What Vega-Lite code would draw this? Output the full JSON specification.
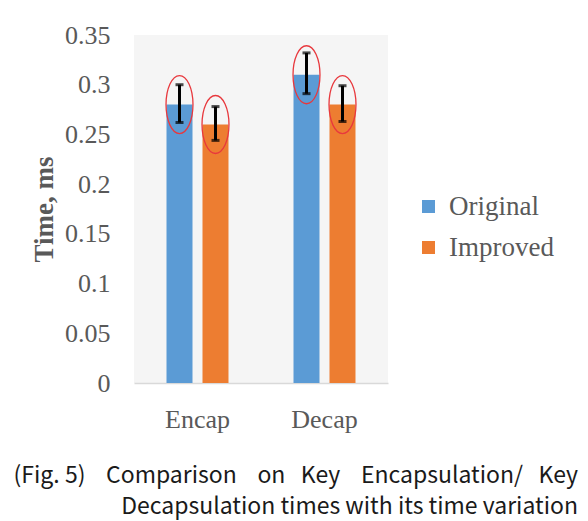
{
  "$schema": "https://vega.github.io/schema/vega-lite/v6.json",
  "width": 254,
  "height": 348,
  "autosize": {"type": "none"},
  "padding": {"left": 134, "top": 35, "right": 200, "bottom": 138},
  "background": "white",
  "config": {
    "view": {"fill": "#f5f5f5", "stroke": null},
    "font": "Liberation Serif",
    "legend": {"labelFont": "Liberation Serif", "labelFontSize": 27, "labelColor": "#595959"}
  },
  "title": {
    "text": ["(Fig. 5)\u00a0\u00a0\u00a0\u00a0Comparison\u00a0\u00a0\u00a0\u00a0on\u00a0\u00a0\u00a0Key\u00a0\u00a0\u00a0\u00a0Encapsulation/\u00a0\u00a0\u00a0Key", "Decapsulation times with its time variation"],
    "orient": "bottom",
    "anchor": "end",
    "frame": "group",
    "dx": 190,
    "offset": 33,
    "font": "Noto Sans CJK KR",
    "fontSize": 23,
    "fontWeight": "normal",
    "color": "#1a1a1a",
    "lineHeight": 31
  },
  "data": {
    "values": [
      {"group": "Encap", "series": "Original", "value": 0.28, "lo": 0.262, "hi": 0.3},
      {"group": "Encap", "series": "Improved", "value": 0.26, "lo": 0.244, "hi": 0.278},
      {"group": "Decap", "series": "Original", "value": 0.31, "lo": 0.291, "hi": 0.332},
      {"group": "Decap", "series": "Improved", "value": 0.28, "lo": 0.263, "hi": 0.299}
    ]
  },
  "encoding": {
    "x": {
      "field": "group",
      "type": "nominal",
      "sort": ["Encap", "Decap"],
      "scale": {"paddingInner": 0, "paddingOuter": 0},
      "axis": {
        "title": null,
        "labelAngle": 0,
        "labelFont": "Liberation Serif",
        "labelFontSize": 26,
        "labelColor": "#595959",
        "labelPadding": 23,
        "ticks": false,
        "domainColor": "#d9d9d9",
        "domainWidth": 1.5
      }
    },
    "xOffset": {
      "field": "series",
      "type": "nominal",
      "sort": ["Original", "Improved"],
      "scale": {"paddingInner": 0.278, "paddingOuter": 0.903}
    }
  },
  "layer": [
    {
      "mark": {"type": "bar"},
      "encoding": {
        "y": {
          "field": "value",
          "type": "quantitative",
          "scale": {"domain": [0, 0.35], "nice": false},
          "axis": {
            "values": [0, 0.05, 0.1, 0.15, 0.2, 0.25, 0.3, 0.35],
            "format": ".2~f",
            "title": "Time, ms",
            "titleFont": "Liberation Serif",
            "titleFontSize": 27,
            "titleFontWeight": "bold",
            "titleColor": "#595959",
            "titlePadding": 6,
            "labelFont": "Liberation Serif",
            "labelFontSize": 26,
            "labelColor": "#595959",
            "labelPadding": 24,
            "ticks": false,
            "domain": false,
            "grid": false
          }
        },
        "color": {
          "field": "series",
          "type": "nominal",
          "sort": ["Original", "Improved"],
          "scale": {"domain": ["Original", "Improved"], "range": ["#5b9bd5", "#ed7d31"]},
          "legend": {
            "title": null,
            "orient": "none",
            "legendX": 281,
            "legendY": 158,
            "symbolType": "square",
            "symbolSize": 169,
            "symbolStrokeWidth": 0,
            "labelFont": "Liberation Serif",
            "labelFontSize": 27,
            "labelColor": "#595959",
            "labelOffset": 7,
            "rowPadding": 13
          }
        }
      }
    },
    {
      "mark": {"type": "rule", "color": "black", "strokeWidth": 3},
      "encoding": {
        "y": {"field": "lo", "type": "quantitative"},
        "y2": {"field": "hi"}
      }
    },
    {
      "mark": {"type": "tick", "color": "black", "thickness": 3, "size": 8},
      "encoding": {"y": {"field": "lo", "type": "quantitative"}}
    },
    {
      "mark": {"type": "tick", "color": "black", "thickness": 3, "size": 8},
      "encoding": {"y": {"field": "hi", "type": "quantitative"}}
    },
    {
      "mark": {
        "type": "point",
        "shape": "M -0.465 0 A 0.465 1 0 1 1 0.465 0 A 0.465 1 0 1 1 -0.465 0 Z",
        "size": 3364,
        "filled": false,
        "stroke": "#e8383d",
        "strokeWidth": 1.3,
        "opacity": 1
      },
      "encoding": {"y": {"field": "value", "type": "quantitative"}}
    }
  ]
}
